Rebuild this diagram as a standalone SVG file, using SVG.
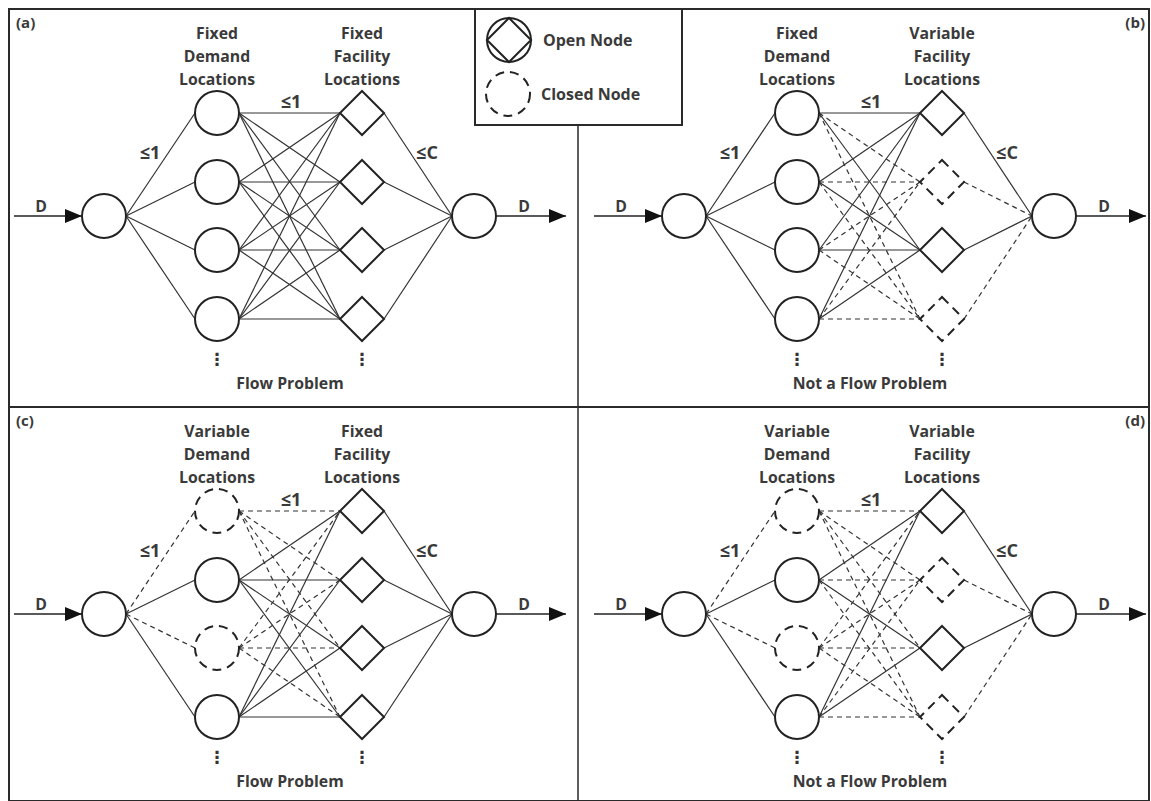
<svg xmlns="http://www.w3.org/2000/svg" width="1151" height="801" viewBox="0 0 1151 801">
<style>
.bg{fill:#fff}
.frame{fill:none;stroke:#2a2a2a;stroke-width:2}
.e{stroke:#333;stroke-width:1.2;fill:none}
.d{stroke-dasharray:5 4}
.n{fill:#fff;stroke:#222;stroke-width:2}
.c{stroke-dasharray:9 6}
.t{font-family:"Open Sans","Liberation Sans",sans-serif;font-weight:bold;fill:#3a3a3a}
.h{font-size:15.8px;text-anchor:middle}
.lb{font-size:18px;text-anchor:middle}
.p{font-size:15px}
.dots{font-family:"DejaVu Sans",sans-serif;font-weight:bold;font-size:17px;fill:#333;text-anchor:middle}
.arr{stroke:#222;stroke-width:1.3;fill:none}
</style>
<defs>
<marker id="ah" markerUnits="userSpaceOnUse" markerWidth="18" markerHeight="14" refX="17" refY="7" orient="auto">
<path d="M0,0 L17,7 L0,14 z" fill="#111"/>
</marker>
</defs>
<rect class="bg" x="0" y="0" width="1151" height="801"/>

<!-- frames -->
<g id="frames">
<rect class="frame" x="9" y="9" width="1140" height="792"/>
<line class="frame" x1="9" y1="407" x2="1149" y2="407"/>
<line class="frame" x1="578" y1="125" x2="578" y2="801" style="stroke-width:1.5"/>
</g>

<!-- legend -->
<g id="legend">
<rect x="475" y="9" width="207" height="116" fill="#fff" stroke="#2a2a2a" stroke-width="2"/>
<g id="legend-open">
<circle class="n" cx="509" cy="40" r="22"/>
<path d="M509,18 L531,40 L509,62 L487,40 Z" fill="none" stroke="#222" stroke-width="2"/>
<text class="t" x="543" y="46" font-size="16">Open Node</text>
</g>
<g id="legend-closed">
<circle class="n c" cx="508" cy="94" r="22"/>
<text class="t" x="541" y="100" font-size="16">Closed Node</text>
</g>
</g>

<!-- ================= Panel (a) ================= -->
<g id="panel-a">
<g id="a-connectors">
<line class="arr" x1="14" y1="216" x2="82" y2="216" marker-end="url(#ah)"/>
<line class="arr" x1="496" y1="216" x2="566" y2="216" marker-end="url(#ah)"/>
<line class="e" x1="126" y1="216" x2="195" y2="113"/>
<line class="e" x1="126" y1="216" x2="195" y2="182"/>
<line class="e" x1="126" y1="216" x2="195" y2="250"/>
<line class="e" x1="126" y1="216" x2="195" y2="319"/>
<line class="e" x1="239" y1="113" x2="340" y2="113"/>
<line class="e" x1="239" y1="113" x2="340" y2="182"/>
<line class="e" x1="239" y1="113" x2="340" y2="250"/>
<line class="e" x1="239" y1="113" x2="340" y2="319"/>
<line class="e" x1="239" y1="182" x2="340" y2="113"/>
<line class="e" x1="239" y1="182" x2="340" y2="182"/>
<line class="e" x1="239" y1="182" x2="340" y2="250"/>
<line class="e" x1="239" y1="182" x2="340" y2="319"/>
<line class="e" x1="239" y1="250" x2="340" y2="113"/>
<line class="e" x1="239" y1="250" x2="340" y2="182"/>
<line class="e" x1="239" y1="250" x2="340" y2="250"/>
<line class="e" x1="239" y1="250" x2="340" y2="319"/>
<line class="e" x1="239" y1="319" x2="340" y2="113"/>
<line class="e" x1="239" y1="319" x2="340" y2="182"/>
<line class="e" x1="239" y1="319" x2="340" y2="250"/>
<line class="e" x1="239" y1="319" x2="340" y2="319"/>
<line class="e" x1="384" y1="113" x2="452" y2="216"/>
<line class="e" x1="384" y1="182" x2="452" y2="216"/>
<line class="e" x1="384" y1="250" x2="452" y2="216"/>
<line class="e" x1="384" y1="319" x2="452" y2="216"/>
</g>
<g id="a-src"><circle class="n" cx="104" cy="216" r="22"/></g>
<g id="a-dem1"><circle class="n" cx="217" cy="113" r="22"/></g>
<g id="a-dem2"><circle class="n" cx="217" cy="182" r="22"/></g>
<g id="a-dem3"><circle class="n" cx="217" cy="250" r="22"/></g>
<g id="a-dem4"><circle class="n" cx="217" cy="319" r="22"/></g>
<g id="a-fac1"><path class="n" d="M362,91 L384,113 L362,135 L340,113 Z"/></g>
<g id="a-fac2"><path class="n" d="M362,160 L384,182 L362,204 L340,182 Z"/></g>
<g id="a-fac3"><path class="n" d="M362,228 L384,250 L362,272 L340,250 Z"/></g>
<g id="a-fac4"><path class="n" d="M362,297 L384,319 L362,341 L340,319 Z"/></g>
<g id="a-sink"><circle class="n" cx="474" cy="216" r="22"/></g>
<text class="t p" x="16" y="28">(a)</text>
<text class="t h" x="217" y="39">Fixed</text>
<text class="t h" x="217" y="62">Demand</text>
<text class="t h" x="217" y="85">Locations</text>
<text class="t h" x="362" y="39">Fixed</text>
<text class="t h" x="362" y="62">Facility</text>
<text class="t h" x="362" y="85">Locations</text>
<text class="t lb" x="150" y="159">≤1</text>
<text class="t lb" x="291" y="108">≤1</text>
<text class="t lb" x="427" y="159">≤C</text>
<text class="t h" x="41" y="212">D</text>
<text class="t h" x="524" y="212">D</text>
<text class="dots" x="217" y="365">⋮</text>
<text class="dots" x="362" y="365">⋮</text>
<text class="t h" x="290" y="389">Flow Problem</text>
</g>

<!-- ================= Panel (b) ================= -->
<g id="panel-b" transform="translate(580,0)">
<g id="b-connectors">
<line class="arr" x1="14" y1="216" x2="82" y2="216" marker-end="url(#ah)"/>
<line class="arr" x1="496" y1="216" x2="566" y2="216" marker-end="url(#ah)"/>
<line class="e" x1="126" y1="216" x2="195" y2="113"/>
<line class="e" x1="126" y1="216" x2="195" y2="182"/>
<line class="e" x1="126" y1="216" x2="195" y2="250"/>
<line class="e" x1="126" y1="216" x2="195" y2="319"/>
<line class="e" x1="239" y1="113" x2="340" y2="113"/>
<line class="e d" x1="239" y1="113" x2="340" y2="182"/>
<line class="e" x1="239" y1="113" x2="340" y2="250"/>
<line class="e d" x1="239" y1="113" x2="340" y2="319"/>
<line class="e" x1="239" y1="182" x2="340" y2="113"/>
<line class="e d" x1="239" y1="182" x2="340" y2="182"/>
<line class="e" x1="239" y1="182" x2="340" y2="250"/>
<line class="e d" x1="239" y1="182" x2="340" y2="319"/>
<line class="e" x1="239" y1="250" x2="340" y2="113"/>
<line class="e d" x1="239" y1="250" x2="340" y2="182"/>
<line class="e" x1="239" y1="250" x2="340" y2="250"/>
<line class="e d" x1="239" y1="250" x2="340" y2="319"/>
<line class="e" x1="239" y1="319" x2="340" y2="113"/>
<line class="e d" x1="239" y1="319" x2="340" y2="182"/>
<line class="e" x1="239" y1="319" x2="340" y2="250"/>
<line class="e d" x1="239" y1="319" x2="340" y2="319"/>
<line class="e" x1="384" y1="113" x2="452" y2="216"/>
<line class="e d" x1="384" y1="182" x2="452" y2="216"/>
<line class="e" x1="384" y1="250" x2="452" y2="216"/>
<line class="e d" x1="384" y1="319" x2="452" y2="216"/>
</g>
<g id="b-src"><circle class="n" cx="104" cy="216" r="22"/></g>
<g id="b-dem1"><circle class="n" cx="217" cy="113" r="22"/></g>
<g id="b-dem2"><circle class="n" cx="217" cy="182" r="22"/></g>
<g id="b-dem3"><circle class="n" cx="217" cy="250" r="22"/></g>
<g id="b-dem4"><circle class="n" cx="217" cy="319" r="22"/></g>
<g id="b-fac1"><path class="n" d="M362,91 L384,113 L362,135 L340,113 Z"/></g>
<g id="b-fac2"><path class="n c" d="M362,160 L384,182 L362,204 L340,182 Z"/></g>
<g id="b-fac3"><path class="n" d="M362,228 L384,250 L362,272 L340,250 Z"/></g>
<g id="b-fac4"><path class="n c" d="M362,297 L384,319 L362,341 L340,319 Z"/></g>
<g id="b-sink"><circle class="n" cx="474" cy="216" r="22"/></g>
<text class="t p" x="565" y="28" text-anchor="end">(b)</text>
<text class="t h" x="217" y="39">Fixed</text>
<text class="t h" x="217" y="62">Demand</text>
<text class="t h" x="217" y="85">Locations</text>
<text class="t h" x="362" y="39">Variable</text>
<text class="t h" x="362" y="62">Facility</text>
<text class="t h" x="362" y="85">Locations</text>
<text class="t lb" x="150" y="159">≤1</text>
<text class="t lb" x="291" y="108">≤1</text>
<text class="t lb" x="427" y="159">≤C</text>
<text class="t h" x="41" y="212">D</text>
<text class="t h" x="524" y="212">D</text>
<text class="dots" x="217" y="365">⋮</text>
<text class="dots" x="362" y="365">⋮</text>
<text class="t h" x="290" y="389">Not a Flow Problem</text>
</g>

<!-- ================= Panel (c) ================= -->
<g id="panel-c" transform="translate(0,398)">
<g id="c-connectors">
<line class="arr" x1="14" y1="216" x2="82" y2="216" marker-end="url(#ah)"/>
<line class="arr" x1="496" y1="216" x2="566" y2="216" marker-end="url(#ah)"/>
<line class="e d" x1="126" y1="216" x2="195" y2="113"/>
<line class="e" x1="126" y1="216" x2="195" y2="182"/>
<line class="e d" x1="126" y1="216" x2="195" y2="250"/>
<line class="e" x1="126" y1="216" x2="195" y2="319"/>
<line class="e d" x1="239" y1="113" x2="340" y2="113"/>
<line class="e d" x1="239" y1="113" x2="340" y2="182"/>
<line class="e d" x1="239" y1="113" x2="340" y2="250"/>
<line class="e d" x1="239" y1="113" x2="340" y2="319"/>
<line class="e" x1="239" y1="182" x2="340" y2="113"/>
<line class="e" x1="239" y1="182" x2="340" y2="182"/>
<line class="e" x1="239" y1="182" x2="340" y2="250"/>
<line class="e" x1="239" y1="182" x2="340" y2="319"/>
<line class="e d" x1="239" y1="250" x2="340" y2="113"/>
<line class="e d" x1="239" y1="250" x2="340" y2="182"/>
<line class="e d" x1="239" y1="250" x2="340" y2="250"/>
<line class="e d" x1="239" y1="250" x2="340" y2="319"/>
<line class="e" x1="239" y1="319" x2="340" y2="113"/>
<line class="e" x1="239" y1="319" x2="340" y2="182"/>
<line class="e" x1="239" y1="319" x2="340" y2="250"/>
<line class="e" x1="239" y1="319" x2="340" y2="319"/>
<line class="e" x1="384" y1="113" x2="452" y2="216"/>
<line class="e" x1="384" y1="182" x2="452" y2="216"/>
<line class="e" x1="384" y1="250" x2="452" y2="216"/>
<line class="e" x1="384" y1="319" x2="452" y2="216"/>
</g>
<g id="c-src"><circle class="n" cx="104" cy="216" r="22"/></g>
<g id="c-dem1"><circle class="n c" cx="217" cy="113" r="22"/></g>
<g id="c-dem2"><circle class="n" cx="217" cy="182" r="22"/></g>
<g id="c-dem3"><circle class="n c" cx="217" cy="250" r="22"/></g>
<g id="c-dem4"><circle class="n" cx="217" cy="319" r="22"/></g>
<g id="c-fac1"><path class="n" d="M362,91 L384,113 L362,135 L340,113 Z"/></g>
<g id="c-fac2"><path class="n" d="M362,160 L384,182 L362,204 L340,182 Z"/></g>
<g id="c-fac3"><path class="n" d="M362,228 L384,250 L362,272 L340,250 Z"/></g>
<g id="c-fac4"><path class="n" d="M362,297 L384,319 L362,341 L340,319 Z"/></g>
<g id="c-sink"><circle class="n" cx="474" cy="216" r="22"/></g>
<text class="t p" x="16" y="28">(c)</text>
<text class="t h" x="217" y="39">Variable</text>
<text class="t h" x="217" y="62">Demand</text>
<text class="t h" x="217" y="85">Locations</text>
<text class="t h" x="362" y="39">Fixed</text>
<text class="t h" x="362" y="62">Facility</text>
<text class="t h" x="362" y="85">Locations</text>
<text class="t lb" x="150" y="159">≤1</text>
<text class="t lb" x="291" y="108">≤1</text>
<text class="t lb" x="427" y="159">≤C</text>
<text class="t h" x="41" y="212">D</text>
<text class="t h" x="524" y="212">D</text>
<text class="dots" x="217" y="365">⋮</text>
<text class="dots" x="362" y="365">⋮</text>
<text class="t h" x="290" y="389">Flow Problem</text>
</g>

<!-- ================= Panel (d) ================= -->
<g id="panel-d" transform="translate(580,398)">
<g id="d-connectors">
<line class="arr" x1="14" y1="216" x2="82" y2="216" marker-end="url(#ah)"/>
<line class="arr" x1="496" y1="216" x2="566" y2="216" marker-end="url(#ah)"/>
<line class="e d" x1="126" y1="216" x2="195" y2="113"/>
<line class="e" x1="126" y1="216" x2="195" y2="182"/>
<line class="e d" x1="126" y1="216" x2="195" y2="250"/>
<line class="e" x1="126" y1="216" x2="195" y2="319"/>
<line class="e d" x1="239" y1="113" x2="340" y2="113"/>
<line class="e d" x1="239" y1="113" x2="340" y2="182"/>
<line class="e d" x1="239" y1="113" x2="340" y2="250"/>
<line class="e d" x1="239" y1="113" x2="340" y2="319"/>
<line class="e" x1="239" y1="182" x2="340" y2="113"/>
<line class="e d" x1="239" y1="182" x2="340" y2="182"/>
<line class="e" x1="239" y1="182" x2="340" y2="250"/>
<line class="e d" x1="239" y1="182" x2="340" y2="319"/>
<line class="e d" x1="239" y1="250" x2="340" y2="113"/>
<line class="e d" x1="239" y1="250" x2="340" y2="182"/>
<line class="e d" x1="239" y1="250" x2="340" y2="250"/>
<line class="e d" x1="239" y1="250" x2="340" y2="319"/>
<line class="e" x1="239" y1="319" x2="340" y2="113"/>
<line class="e d" x1="239" y1="319" x2="340" y2="182"/>
<line class="e" x1="239" y1="319" x2="340" y2="250"/>
<line class="e d" x1="239" y1="319" x2="340" y2="319"/>
<line class="e" x1="384" y1="113" x2="452" y2="216"/>
<line class="e d" x1="384" y1="182" x2="452" y2="216"/>
<line class="e" x1="384" y1="250" x2="452" y2="216"/>
<line class="e d" x1="384" y1="319" x2="452" y2="216"/>
</g>
<g id="d-src"><circle class="n" cx="104" cy="216" r="22"/></g>
<g id="d-dem1"><circle class="n c" cx="217" cy="113" r="22"/></g>
<g id="d-dem2"><circle class="n" cx="217" cy="182" r="22"/></g>
<g id="d-dem3"><circle class="n c" cx="217" cy="250" r="22"/></g>
<g id="d-dem4"><circle class="n" cx="217" cy="319" r="22"/></g>
<g id="d-fac1"><path class="n" d="M362,91 L384,113 L362,135 L340,113 Z"/></g>
<g id="d-fac2"><path class="n c" d="M362,160 L384,182 L362,204 L340,182 Z"/></g>
<g id="d-fac3"><path class="n" d="M362,228 L384,250 L362,272 L340,250 Z"/></g>
<g id="d-fac4"><path class="n c" d="M362,297 L384,319 L362,341 L340,319 Z"/></g>
<g id="d-sink"><circle class="n" cx="474" cy="216" r="22"/></g>
<text class="t p" x="565" y="28" text-anchor="end">(d)</text>
<text class="t h" x="217" y="39">Variable</text>
<text class="t h" x="217" y="62">Demand</text>
<text class="t h" x="217" y="85">Locations</text>
<text class="t h" x="362" y="39">Variable</text>
<text class="t h" x="362" y="62">Facility</text>
<text class="t h" x="362" y="85">Locations</text>
<text class="t lb" x="150" y="159">≤1</text>
<text class="t lb" x="291" y="108">≤1</text>
<text class="t lb" x="427" y="159">≤C</text>
<text class="t h" x="41" y="212">D</text>
<text class="t h" x="524" y="212">D</text>
<text class="dots" x="217" y="365">⋮</text>
<text class="dots" x="362" y="365">⋮</text>
<text class="t h" x="290" y="389">Not a Flow Problem</text>
</g>
</svg>
